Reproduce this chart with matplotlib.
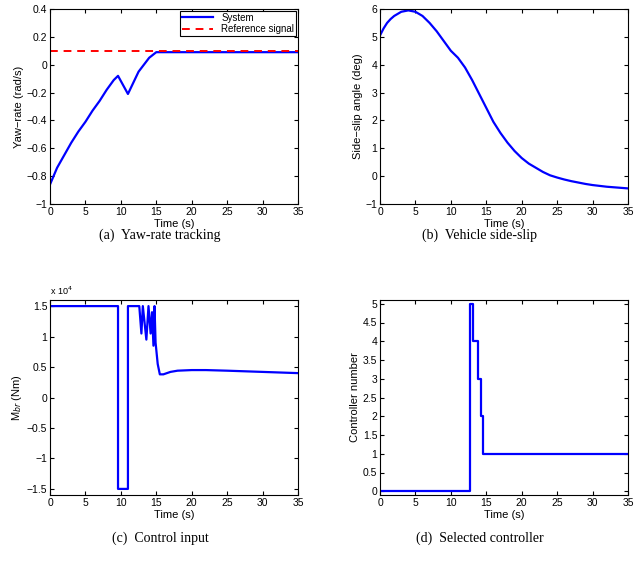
import numpy as np
import matplotlib.pyplot as plt

# (a) yaw-rate tracking
t_yaw = [0, 1, 2, 3, 4, 5, 6, 7, 8, 9, 9.6, 11, 12.5, 14, 15, 35]
yaw = [-0.86, -0.74, -0.65, -0.56, -0.48, -0.41, -0.33, -0.26, -0.18, -0.11,
       -0.08, -0.21, -0.05, 0.05, 0.09, 0.09]
t_ref = [0, 35]
yaw_ref = [0.1, 0.1]

# (b) side-slip angle
t_slip = [0, 0.5, 1, 1.5, 2, 3, 4, 5, 6, 7, 8, 9, 10, 11, 12, 13, 14, 15, 16,
          17, 18, 19, 20, 21, 22, 23, 24, 25, 26, 27, 28, 29, 30, 31, 32, 33, 34, 35]
slip = [5.05, 5.3, 5.5, 5.64, 5.75, 5.9, 5.95, 5.9, 5.75, 5.5, 5.2, 4.85, 4.5,
        4.25, 3.9, 3.45, 2.95, 2.45, 1.95, 1.55, 1.2, 0.9, 0.65, 0.45, 0.3, 0.15,
        0.03, -0.05, -0.12, -0.18, -0.23, -0.28, -0.32, -0.35, -0.38, -0.4, -0.42, -0.44]

# (c) control input M_br (Nm)
t_mbr = [0, 9.6, 9.6, 11, 11, 12.6, 12.9, 13.1, 13.6, 13.9, 14.2, 14.4, 14.6,
         14.75, 14.9, 15.2, 15.5, 16, 17, 18, 20, 22, 25, 30, 35]
mbr = [1.5e4, 1.5e4, -1.5e4, -1.5e4, 1.5e4, 1.5e4, 1.05e4, 1.5e4, 0.95e4, 1.5e4,
       1.05e4, 1.4e4, 0.85e4, 1.5e4, 0.9e4, 0.55e4, 0.38e4, 0.38e4, 0.42e4,
       0.44e4, 0.45e4, 0.45e4, 0.44e4, 0.42e4, 0.40e4]
mbr_ticklabels = ['\u22121.5', '\u22121', '\u22120.5', '0', '0.5', '1', '1.5']

# (d) selected controller
t_ctrl = [0, 12.7, 13.1, 13.8, 14.2, 14.6, 35]
ctrl = [0, 5, 4, 3, 2, 1, 1]

W, H = 638, 561
fig = plt.figure(figsize=(W / 100, H / 100), dpi=100)
plt.rcParams['font.family'] = 'Liberation Sans'


def make_ax(left, top, width=248, height=195):
    ax = fig.add_axes([left / W, 1 - (top + height) / H, width / W, height / H])
    ax.tick_params(direction='in', top=True, right=True, length=3, labelsize=7.5, pad=2)
    for s in ax.spines.values():
        s.set_linewidth(0.8)
    ax.set_xlim(0, 35)
    ax.set_xticks(np.arange(0, 36, 5))
    ax.set_xlabel('Time (s)', fontsize=8, labelpad=1.5)
    return ax


blue = '#0000ff'

ax1 = make_ax(50, 9)
ax1.plot(t_yaw, yaw, color=blue, lw=1.6, label='System')
ax1.plot(t_ref, yaw_ref, color='red', lw=1.4, ls=(0, (4, 3)), label='Reference signal')
ax1.set_ylim(-1, 0.4)
ax1.set_yticks(np.arange(-1, 0.41, 0.2))
ax1.set_yticklabels(['\u22121', '\u22120.8', '\u22120.6', '\u22120.4', '\u22120.2', '0', '0.2', '0.4'])
ax1.set_ylabel('Yaw\u2212rate (rad/s)', fontsize=8, labelpad=2)
leg = ax1.legend(loc='upper right', fontsize=7, fancybox=False, framealpha=1,
                 edgecolor='black', borderpad=0.2, handlelength=3.2,
                 labelspacing=0.15, borderaxespad=0.2)
leg.get_frame().set_linewidth(0.8)

ax2 = make_ax(380, 9)
ax2.plot(t_slip, slip, color=blue, lw=1.6)
ax2.set_ylim(-1, 6)
ax2.set_yticks(range(-1, 7))
ax2.set_yticklabels(['\u22121', '0', '1', '2', '3', '4', '5', '6'])
ax2.set_ylabel('Side\u2212slip angle (deg)', fontsize=8, labelpad=2)

ax3 = make_ax(50, 300)
ax3.plot(t_mbr, mbr, color=blue, lw=1.6)
ax3.set_ylim(-1.6e4, 1.6e4)
ax3.set_yticks(np.arange(-1.5e4, 1.51e4, 0.5e4))
ax3.set_yticklabels(mbr_ticklabels)
ax3.text(0, 1.015, r'x 10$^4$', transform=ax3.transAxes, fontsize=6.5,
         ha='left', va='bottom')
ax3.set_ylabel('M$_{br}$ (Nm)', fontsize=8, labelpad=2)

ax4 = make_ax(380, 300)
ax4.step(t_ctrl, ctrl, where='post', color=blue, lw=1.6)
ax4.set_ylim(-0.1, 5.1)
ax4.set_yticks(np.arange(0, 5.1, 0.5))
ax4.set_yticklabels(['0', '0.5', '1', '1.5', '2', '2.5', '3', '3.5', '4', '4.5', '5'])
ax4.set_ylabel('Controller number', fontsize=8, labelpad=2)

cap = dict(fontsize=10, family='Liberation Serif', ha='center', va='center')
fig.text(160 / W, 1 - 235 / H, '(a)  Yaw-rate tracking', **cap)
fig.text(480 / W, 1 - 235 / H, '(b)  Vehicle side-slip', **cap)
fig.text(160 / W, 1 - 538 / H, '(c)  Control input', **cap)
fig.text(480 / W, 1 - 538 / H, '(d)  Selected controller', **cap)

fig.savefig('out.png', dpi=100)
